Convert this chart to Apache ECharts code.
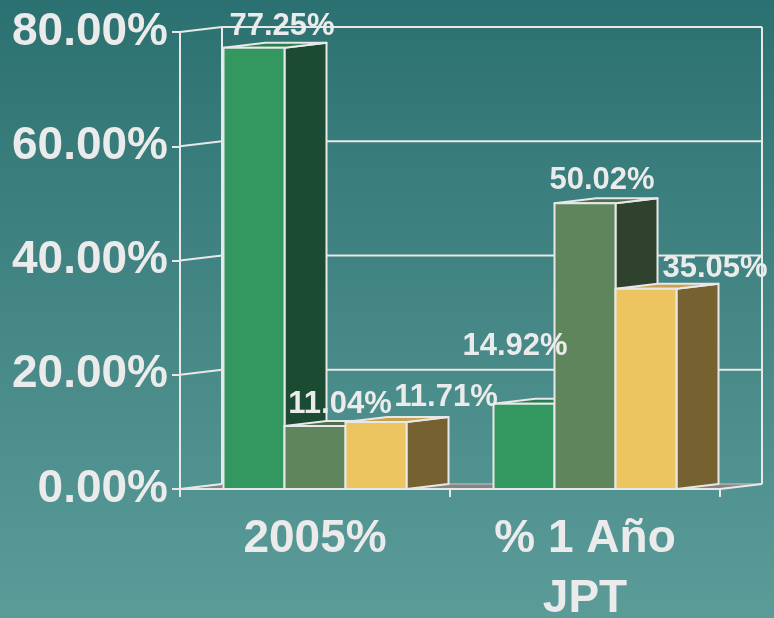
<!DOCTYPE html>
<html>
<head>
<meta charset="utf-8">
<script src="https://cdn.jsdelivr.net/npm/echarts@6/dist/echarts.min.js"></script>
<style>
html,body{margin:0;padding:0;}
#c{width:774px;height:618px;}
</style>
</head>
<body>
<div id="c"></div>
<script>
// ---- data ----
const categories = ['2005%', '% 1 Año\nJPT'];
const seriesGreen = [77.25, 14.92];
const seriesOlive = [11.04, 50.02];
const seriesYellow = [11.71, 35.05];
const yMin = 0, yMax = 80, yStep = 20;

// ---- styles ----
const FONT = '"Liberation Sans", Arial, sans-serif';
const TEXT = '#ebebeb';
const EDGE = '#e8e8e8';
const DX = 42, DY = -5;
const palettes = [
  {front: '#33985f', side: '#1c4b33', top: '#2b7c4f'},
  {front: '#5f855c', side: '#2f422d', top: '#4d704c'},
  {front: '#edc560', side: '#766230', top: '#c9a34c'}
];
// label offsets (px) relative to bar front centre / top
const labelOffsets = [
  [[28, -21], [-9, -57]],
  [[25, -21], [17, -23]],
  [[70, -25], [69, -20]]
];
const allSeries = [seriesGreen, seriesOlive, seriesYellow];

const chart = echarts.init(document.getElementById('c'));

function wallsRender(params, api) {
  const cs = params.coordSys;
  const x0 = cs.x, x1 = cs.x + cs.width, yt = cs.y, yb = cs.y + cs.height;
  const children = [];
  const ls = {stroke: EDGE, lineWidth: 2};
  children.push({type: 'polygon', shape: {points: [[x0, yb], [x1, yb], [x1 + DX, yb + DY], [x0 + DX, yb + DY]]},
    style: {fill: '#858585', stroke: '#c8c8c8', lineWidth: 1}});
  for (let v = yMin; v <= yMax; v += yStep) {
    const y = api.coord([0, v])[1];
    if (v > yMin) {
      children.push({type: 'line', shape: {x1: x0 + DX, y1: y + DY, x2: x1 + DX, y2: y + DY}, style: ls});
    }
    children.push({type: 'line', shape: {x1: x0, y1: y, x2: x0 + DX, y2: y + DY}, style: ls});
  }
  children.push({type: 'line', shape: {x1: x0 + DX, y1: yt + DY, x2: x0 + DX, y2: yb + DY}, style: ls});
  children.push({type: 'line', shape: {x1: x1 + DX, y1: yt + DY, x2: x1 + DX, y2: yb + DY}, style: ls});
  children.push({type: 'line', shape: {x1: x1, y1: yb, x2: x1 + DX, y2: yb + DY}, style: ls});
  return {type: 'group', children: children};
}

function barRender(si) {
  return function (params, api) {
    const cat = api.value(0), val = api.value(1);
    const catW = api.size([1, 0])[0];
    const w = catW * 0.2259;
    const c = api.coord([cat, val]);
    const base = api.coord([cat, 0])[1];
    const xl = c[0] + (si - 1.5) * w, xr = xl + w, yt = c[1];
    const p = palettes[si];
    const st = {stroke: EDGE, lineWidth: 2, lineJoin: 'round'};
    return {type: 'group', children: [
      {type: 'polygon', shape: {points: [[xr, yt], [xr + DX, yt + DY], [xr + DX, base + DY], [xr, base]]},
        style: Object.assign({fill: p.side}, st)},
      {type: 'polygon', shape: {points: [[xl, yt], [xl + DX, yt + DY], [xr + DX, yt + DY], [xr, yt]]},
        style: Object.assign({fill: p.top}, st)},
      {type: 'rect', shape: {x: xl, y: yt, width: w, height: base - yt},
        style: Object.assign({fill: p.front}, st)}
    ]};
  };
}

function labelRender(params, api) {
  const si = api.value(2), cat = api.value(0), val = api.value(1);
  const catW = api.size([1, 0])[0];
  const w = catW * 0.2259;
  const c = api.coord([cat, val]);
  const xc = c[0] + (si - 1.5) * w + w / 2;
  const off = labelOffsets[si][cat];
  return {type: 'text', style: {
    text: val.toFixed(2) + '%', x: xc + off[0], y: c[1] + off[1],
    align: 'center', verticalAlign: 'middle',
    font: 'bold 31px ' + FONT, fill: TEXT
  }};
}

const series = [{
  type: 'custom', renderItem: wallsRender, data: [[0, 0]], clip: false, z: 1, silent: true
}];
allSeries.forEach((arr, si) => {
  series.push({type: 'custom', renderItem: barRender(si), clip: false, z: 2 + si,
    encode: {x: 0, y: 1}, data: arr.map((v, i) => [i, v])});
});
const labelData = [];
allSeries.forEach((arr, si) => arr.forEach((v, i) => labelData.push([i, v, si])));
series.push({type: 'custom', renderItem: labelRender, clip: false, z: 10,
  encode: {x: 0, y: 1}, data: labelData});

chart.setOption({
  animation: false,
  backgroundColor: new echarts.graphic.LinearGradient(0, 0, 0, 1, [
    {offset: 0, color: '#2c7171'},
    {offset: 1, color: '#5b9c99'}
  ]),
  grid: {left: 180, top: 32, width: 540, height: 457, containLabel: false, outerBoundsMode: 'none'},
  xAxis: {
    type: 'category', data: categories, boundaryGap: true,
    axisLine: {show: true, lineStyle: {color: EDGE, width: 2}},
    axisTick: {show: true, length: 8, lineStyle: {color: EDGE, width: 2}},
    axisLabel: {interval: 0, color: TEXT, fontSize: 46, fontWeight: 'bold', fontFamily: FONT, lineHeight: 60, margin: 20},
    splitLine: {show: false}, z: 5
  },
  yAxis: {
    type: 'value', min: yMin, max: yMax, interval: yStep,
    axisLine: {show: true, lineStyle: {color: EDGE, width: 2}},
    axisTick: {show: true, length: 8, lineStyle: {color: EDGE, width: 2}},
    axisLabel: {color: TEXT, fontSize: 46, fontWeight: 'bold', fontFamily: FONT, margin: 12,
      formatter: v => v.toFixed(2) + '%'},
    splitLine: {show: false}
  },
  series: series
});
</script>
</body>
</html>
